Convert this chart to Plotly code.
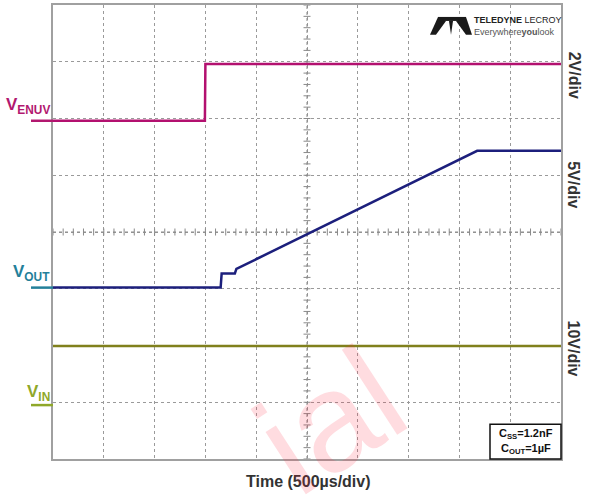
import numpy as np
import plotly.graph_objects as go

# time in microseconds (500 us/div), vertical position in screen divisions (0..8)
venuv_t = [0, 1495, 1500, 5000]
venuv_y = [5.96, 5.96, 6.96, 6.96]

vout_t = [0, 1650, 1660, 1790, 1805, 4175, 5000]
vout_y = [3.02, 3.02, 3.27, 3.27, 3.35, 5.43, 5.43]

vin_t = [0, 5000]
vin_y = [1.99, 1.99]

# ground markers on the left edge (divisions)
markers = {"ENUV": 5.96, "OUT": 3.02, "IN": 0.95}

C_ENUV, C_OUT, C_IN = "#b3106f", "#1c1f7c", "#80801c"
L_ENUV, L_OUT, L_IN = "#b2186f", "#23809a", "#8fa829"
FONT = "Arial, Liberation Sans, sans-serif"

# plot area in pixels
PL, PR, PT, PB = 53, 561, 3, 459


def px(x, y):
    # pixel -> paper coordinates
    return (x - PL) / (PR - PL), (PB - y) / (PB - PT)


def note(text, x, y, size, color, angle=0, xanchor="center", family=FONT):
    xx, yp = px(x, y)
    fig.add_annotation(text=text, xref="paper", yref="paper", x=xx, y=yp, textangle=angle,
                       xanchor=xanchor, yanchor="middle", showarrow=False,
                       font=dict(family=family, size=size, color=color))


fig = go.Figure()

# centre cross with minor ticks
tick_x = np.arange(0, 5001, 100)
tick_y = np.arange(0, 8.01, 0.2)
fig.add_trace(go.Scatter(x=[0, 5000], y=[4, 4], mode="lines", line=dict(color="#8a8a8a", width=1, dash="dot"),
                         hoverinfo="skip", showlegend=False))
fig.add_trace(go.Scatter(x=[2500, 2500], y=[0, 8], mode="lines", line=dict(color="#8a8a8a", width=1, dash="dot"),
                         hoverinfo="skip", showlegend=False))
fig.add_trace(go.Scatter(x=tick_x, y=[4] * len(tick_x), mode="markers",
                         marker=dict(symbol="line-ns", size=5, line=dict(color="#8a8a8a", width=1)),
                         hoverinfo="skip", showlegend=False))
fig.add_trace(go.Scatter(x=[2500] * len(tick_y), y=tick_y, mode="markers",
                         marker=dict(symbol="line-ew", size=5, line=dict(color="#8a8a8a", width=1)),
                         hoverinfo="skip", showlegend=False))

# scope traces
fig.add_trace(go.Scatter(x=vin_t, y=vin_y, mode="lines", line=dict(color=C_IN, width=2.5), name="VIN"))
fig.add_trace(go.Scatter(x=vout_t, y=vout_y, mode="lines", line=dict(color=C_OUT, width=2.5), name="VOUT"))
fig.add_trace(go.Scatter(x=venuv_t, y=venuv_y, mode="lines", line=dict(color=C_ENUV, width=2.5), name="VENUV"))

# channel labels with short marker lines
labels = [("ENUV", L_ENUV, 6.22), ("OUT", L_OUT, 3.27), ("IN", L_IN, 1.17)]
for name, col, ly in labels:
    fig.add_shape(type="line", xref="paper", yref="y", x0=-22 / (PR - PL), x1=0,
                  y0=markers[name], y1=markers[name], line=dict(color=col, width=2.5))
    fig.add_annotation(text=f"<b>V<sub>{name}</sub></b>", xref="paper", yref="y", x=-0.002, y=ly,
                       xanchor="right", yanchor="middle", showarrow=False,
                       font=dict(family=FONT, size=17, color=col))

# volts/div labels on the right
for txt, yy in [("2V/div", 73), ("5V/div", 183), ("10V/div", 348)]:
    note(f"<b>{txt}</b>", 574, yy, 16, "#333333", angle=90)

# time axis label
note("<b>Time (500µs/div)</b>", 308, 482, 16, "#333333")

# component box
x0, y0 = px(490, 459)
x1, y1 = px(561, 424)
fig.add_shape(type="rect", xref="paper", yref="paper", x0=x0, y0=y0, x1=x1, y1=y1,
              line=dict(color="#111111", width=1.5), fillcolor="white")
note("<b>C<sub>SS</sub>=1.2nF</b>", 525.5, 434, 11, "#111111")
note("<b>C<sub>OUT</sub>=1µF</b>", 525.5, 449, 11, "#111111")

# logo
logo = [
    [(438, 15), (466, 15), (466, 19), (438, 19)],
    [(438, 15), (446, 19), (436, 33), (430, 33)],
    [(449, 19), (453, 19), (451, 33)],
    [(466, 15), (472, 33), (466, 33), (456, 19)],
]
for poly in logo:
    pts = [px(a, b) for a, b in poly]
    path = "M " + " L ".join(f"{a:.4f},{b:.4f}" for a, b in pts) + " Z"
    fig.add_shape(type="path", xref="paper", yref="paper", path=path, fillcolor="#1a1a1a",
                  line=dict(width=0))
note("<b>TELEDYNE</b> LECROY", 472, 18, 9, "#222222", xanchor="left")
note("Everywhere<b>you</b>look", 472, 30, 9, "#555555", xanchor="left")

# watermark fragment
note("ial", 330, 420, 140, "rgba(255,40,60,0.16)", angle=-33)

axis = dict(showgrid=True, griddash="dot", gridcolor="#9a9a9a", gridwidth=1, zeroline=False,
            showticklabels=False, ticks="", showline=True, mirror=True, linecolor="#a0a0a0", linewidth=2)
fig.update_xaxes(range=[0, 5000], dtick=500, **axis)
fig.update_yaxes(range=[0, 8], dtick=1, **axis)

fig.update_layout(width=590, height=497, margin=dict(l=PL, r=590 - PR, t=PT, b=497 - PB),
                  plot_bgcolor="white", paper_bgcolor="white", showlegend=False)

fig.write_html("out.html", config={"displayModeBar": False},
               post_script="document.body.style.margin='0';")
